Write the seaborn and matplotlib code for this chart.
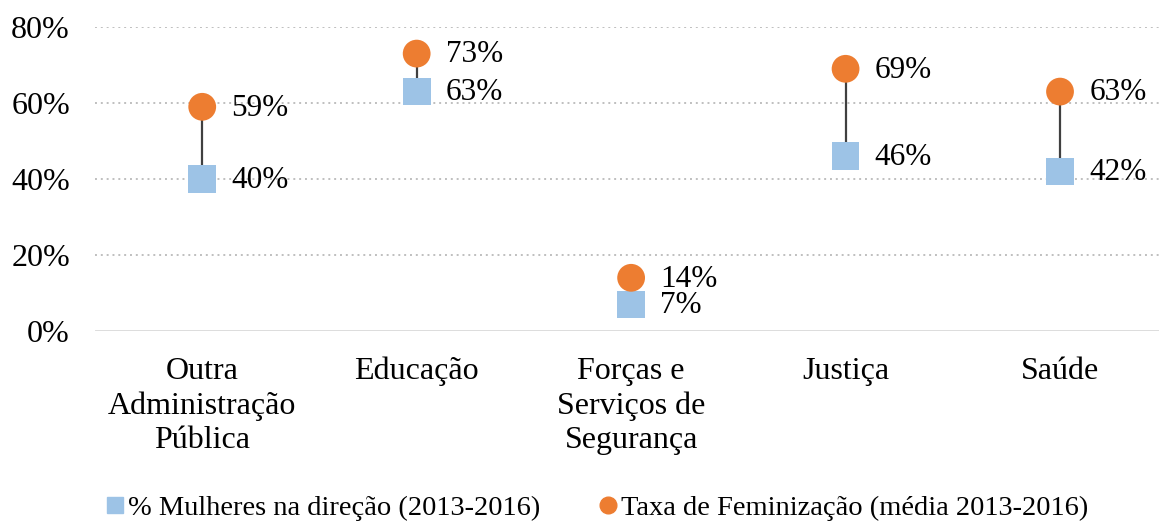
import pandas as pd
import matplotlib
matplotlib.use("Agg")
import matplotlib.pyplot as plt
from matplotlib.lines import Line2D
import seaborn as sns

categorias = ["Outra\nAdministração\nPública", "Educação", "Forças e\nServiços de\nSegurança", "Justiça", "Saúde"]
mulheres_direcao = [40, 63, 7, 46, 42]
taxa_feminizacao = [59, 73, 14, 69, 63]
yticks = [0, 20, 40, 60, 80]
ytick_labels = ["0%", "20%", "40%", "60%", "80%"]
lab_mulheres = "% Mulheres na direção (2013-2016)"
lab_taxa = "Taxa de Feminização (média 2013-2016)"

AZUL = "#9DC3E6"
LARANJA = "#ED7D31"

sns.set_theme(style="white")
plt.rcParams["font.family"] = ["Liberation Serif", "DejaVu Serif"]
plt.rcParams["text.color"] = "black"

df = pd.DataFrame({"cat": categorias, "mulheres": mulheres_direcao, "taxa": taxa_feminizacao})
df["pos"] = range(len(df))

fig = plt.figure(figsize=(11.59, 5.22), dpi=100)
ax = fig.add_axes([95/1159, 191/522, 1 - 95/1159, (331-27)/522])

# linhas de ligação
ax.vlines(df["pos"], df["mulheres"], df["taxa"], color="#404040", lw=1.6, zorder=2)

sns.scatterplot(data=df, x="pos", y="mulheres", marker="s", s=400, color=AZUL,
                edgecolor="none", ax=ax, zorder=3, clip_on=False, legend=False)
sns.scatterplot(data=df, x="pos", y="taxa", marker="o", s=400, color=LARANJA,
                edgecolor="none", ax=ax, zorder=4, clip_on=False, legend=False)

for _, r in df.iterrows():
    ax.annotate(f"{r['taxa']}%", (r["pos"], r["taxa"]), xytext=(21, -1), textcoords="offset points",
                ha="left", va="center", fontsize=22.5, color="black")
    ax.annotate(f"{r['mulheres']}%", (r["pos"], r["mulheres"]), xytext=(21, -1), textcoords="offset points",
                ha="left", va="center", fontsize=22.5, color="black")

ax.set_xlim(-0.5, (1159 - 202) / 214.5)
ax.set_ylim(0, 80)
ax.set_yticks(yticks)
ax.set_yticklabels(ytick_labels, fontsize=23)
ax.set_xticks(df["pos"])
ax.set_xticklabels(categorias, fontsize=23, linespacing=1.24)
ax.tick_params(axis="both", length=0, colors="black")
ax.tick_params(axis="y", pad=18)
ax.tick_params(axis="x", pad=18.5)
ax.set_xlabel("")
ax.set_ylabel("")

for y in yticks[1:]:
    ax.axhline(y, color="#BFBFBF", lw=1.4, ls=(0, (1, 2)), zorder=1)
ax.axhline(0, color="#D9D9D9", lw=2, zorder=1)
for s in ax.spines.values():
    s.set_visible(False)

handles = [
    Line2D([], [], marker="s", ls="none", color=AZUL, markersize=12, label=lab_mulheres),
    Line2D([], [], marker="o", ls="none", color=LARANJA, markersize=12, label=lab_taxa),
]
fig.legend(handles=handles, loc="center", bbox_to_anchor=(0.514, 0.027), ncol=2, frameon=False,
           fontsize=20.5, handletextpad=0.05, columnspacing=2.0, handlelength=0.8)

fig.savefig("out.png", dpi=100)
